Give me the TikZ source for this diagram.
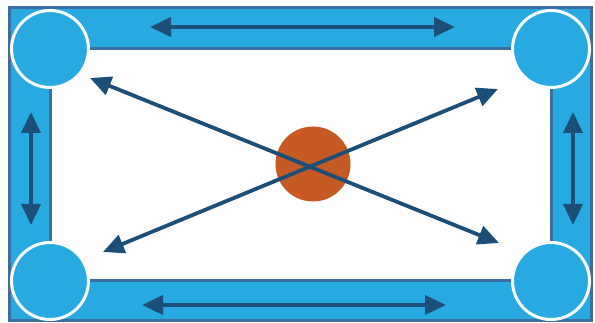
\documentclass[tikz,border=0pt]{standalone}
\usetikzlibrary{arrows.meta}
\definecolor{lightblue}{HTML}{27AAE1}
\definecolor{edgeblue}{HTML}{3B6E9E}
\definecolor{arrowblue}{HTML}{1B4F7A}
\definecolor{orangec}{HTML}{C55A24}
\tikzset{
  corner/.style={circle, fill=lightblue, draw=white, line width=3pt, minimum size=77pt, inner sep=0pt},
  hub/.style={circle, fill=orangec, minimum size=75pt, inner sep=0pt},
  dbl/.style={arrowblue, line width=3.8pt, {Triangle[length=21pt,width=19pt]}-{Triangle[length=21pt,width=19pt]}}
}
\begin{document}
\begin{tikzpicture}[x=1pt,y=-1pt]
\useasboundingbox (0,0) rectangle (595,323);
\fill[white] (0,0) rectangle (595,323);
% frame
\fill[lightblue, even odd rule] (9,8) rectangle (591,321) (50,49) rectangle (551,281);
\draw[edgeblue, line width=3pt] (9,8) rectangle (591,321);
\draw[edgeblue, line width=3pt] (50,49) rectangle (551,281);
% corner circles
\node[corner] (tl) at (50,49) {};
\node[corner] (tr) at (551,49) {};
\node[corner] (bl) at (50,281) {};
\node[corner] (br) at (551,281) {};
% center
\node[hub] (c) at (313,164) {};
% arrow end points
\coordinate (tA) at (150,27);
\coordinate (tB) at (455,27);
\coordinate (bA) at (142,305);
\coordinate (bB) at (446,305);
\coordinate (lA) at (31,112);
\coordinate (lB) at (31,225);
\coordinate (rA) at (573,112);
\coordinate (rB) at (573,225);
\coordinate (d1a) at (90,78);
\coordinate (d1b) at (499,243);
\coordinate (d2a) at (498,89);
\coordinate (d2b) at (103,252);
\draw[dbl] (tA) -- (tB);
\draw[dbl] (bA) -- (bB);
\draw[dbl] (lA) -- (lB);
\draw[dbl] (rA) -- (rB);
\draw[dbl] (d1a) -- (d1b);
\draw[dbl] (d2a) -- (d2b);
\end{tikzpicture}
\end{document}
